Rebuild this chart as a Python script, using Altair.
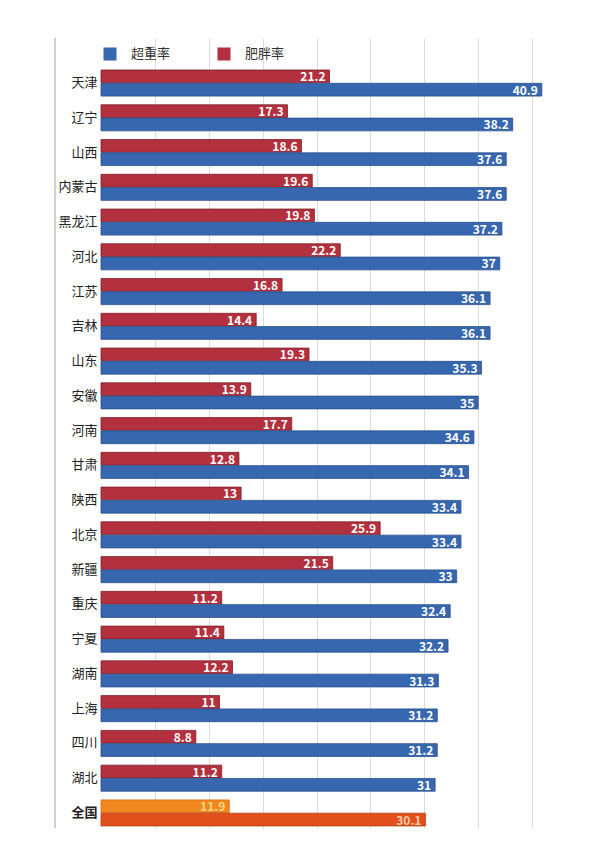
import altair as alt
import pandas as pd

provinces = ["天津", "辽宁", "山西", "内蒙古", "黑龙江", "河北", "江苏", "吉林", "山东", "安徽",
             "河南", "甘肃", "陕西", "北京", "新疆", "重庆", "宁夏", "湖南", "上海", "四川", "湖北", "全国"]
obesity = [21.2, 17.3, 18.6, 19.6, 19.8, 22.2, 16.8, 14.4, 19.3, 13.9,
           17.7, 12.8, 13, 25.9, 21.5, 11.2, 11.4, 12.2, 11, 8.8, 11.2, 11.9]
overweight = [40.9, 38.2, 37.6, 37.6, 37.2, 37, 36.1, 36.1, 35.3, 35,
              34.6, 34.1, 33.4, 33.4, 33, 32.4, 32.2, 31.3, 31.2, 31.2, 31, 30.1]
series_names = ["超重率", "肥胖率"]

rows = []
for p, ob, ow in zip(provinces, obesity, overweight):
    nat = p == "全国"
    rows.append({"province": p, "series": "肥胖率", "value": ob,
                 "label": f"{ob:g}",
                 "ckey": "全国肥胖率" if nat else "肥胖率",
                 "tcolor": "#FBD77E" if nat else "#FFFFFF"})
    rows.append({"province": p, "series": "超重率", "value": ow,
                 "label": f"{ow:g}",
                 "ckey": "全国超重率" if nat else "超重率",
                 "tcolor": "#F7CBA2" if nat else "#FFFFFF"})
df = pd.DataFrame(rows)

W, H = 485, 790
ckeys = ["超重率", "肥胖率", "全国肥胖率", "全国超重率"]

y_enc = alt.Y("province:N", sort=provinces, title=None,
              scale=alt.Scale(paddingInner=0.25, paddingOuter=0.49, align=0.94),
              axis=alt.Axis(ticks=False, domain=False, labelPadding=4, labelFontSize=13,
                            labelColor="#222222",
                            labelFontWeight={"condition": {"test": "datum.value === '全国'", "value": "bold"},
                                             "value": "normal"}))
yoff = alt.YOffset("series:N", sort=["肥胖率", "超重率"],
                   scale=alt.Scale(paddingInner=0.04))
x_enc = alt.X("value:Q", title=None,
              scale=alt.Scale(domain=[0, 45], nice=False),
              axis=alt.Axis(values=[5, 10, 15, 20, 25, 30, 35, 40], labels=False, ticks=False,
                            domain=False, grid=True, gridColor="#dcdcdc", gridWidth=1))

bars = alt.Chart(df).mark_bar(strokeWidth=0.8).encode(
    x=x_enc,
    y=y_enc,
    yOffset=yoff,
    color=alt.Color("ckey:N",
                    scale=alt.Scale(domain=ckeys,
                                    range=["#3767AE", "#B3303E", "#F0871F", "#E1501C"]),
                    legend=alt.Legend(values=series_names, title=None, orient="none",
                                      legendX=2, legendY=9, direction="horizontal",
                                      symbolType="square", symbolSize=170, symbolStrokeWidth=0,
                                      labelFontSize=13, labelColor="#333333", labelOffset=14,
                                      columnPadding=46)),
    stroke=alt.Stroke("ckey:N",
                      scale=alt.Scale(domain=ckeys,
                                      range=["#2a4f8a", "#7e1f2a", "#d96f10", "#b53d12"]),
                      legend=None),
)

texts = alt.Chart(df).mark_text(align="right", baseline="middle", dx=-4, dy=1,
                                fontSize=12, fontWeight="bold").encode(
    x=alt.X("value:Q"),
    y=alt.Y("province:N", sort=provinces),
    yOffset=alt.YOffset("series:N", sort=["肥胖率", "超重率"]),
    text="label:N",
    color=alt.Color("tcolor:N", scale=None),
)

left_line = alt.Chart(pd.DataFrame({"a": [0]})).mark_rule(color="#b0b0b0", strokeWidth=1.2).encode(
    x=alt.value(-46), y=alt.value(0), y2=alt.value(H))

chart = alt.layer(left_line, bars, texts).properties(
    width=W, height=H,
    autosize=alt.AutoSizeParams(type="none"),
    padding={"left": 93, "top": 30, "right": 6, "bottom": 6},
).configure(font="Noto Sans CJK SC").configure_view(stroke=None)

chart.save("out.html", embed_options={"renderer": "svg", "actions": False})
